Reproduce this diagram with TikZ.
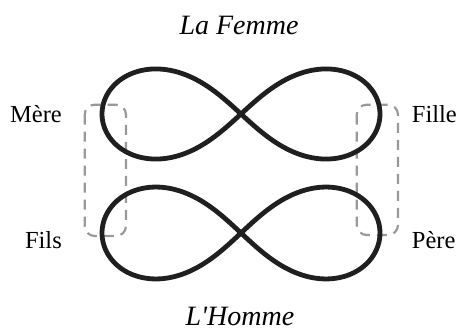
\documentclass[tikz,border=0pt]{standalone}
\usepackage{fontspec}
\setmainfont{Liberation Serif}
\newfontfamily\plainserif{Liberation Serif}[Ligatures=TeXOff]
\begin{document}
\begin{tikzpicture}[x=1pt,y=-1pt,
  loopline/.style={line width=4.8pt, color=black!88},
  pairbox/.style={draw=black!40, line width=2.2pt, dash pattern=on 10pt off 7pt, rounded corners=10pt},
  label/.style={font=\fontsize{24.5}{27}\selectfont, inner sep=0pt},
  title/.style={font=\plainserif\fontsize{28}{31}\selectfont\itshape, inner sep=0pt}]
\useasboundingbox (0,0) rectangle (458,331);
% dashed pair boxes
\draw[pairbox] (84.7,104.7) rectangle (126,236);
\draw[pairbox] (356.7,104.7) rectangle (398,235);
% lemniscates
\coordinate (top) at (241,114);
\coordinate (bot) at (241,233);
\draw[loopline] plot[domain=0:360, samples=240, smooth cycle, shift={(241,114)}]
  ({139*cos(\x)/(1+sin(\x)^2)}, {0.917*139*sin(\x)*cos(\x)/(1+sin(\x)^2)});
\draw[loopline] plot[domain=0:360, samples=240, smooth cycle, shift={(241,233)}]
  ({139*cos(\x)/(1+sin(\x)^2)}, {0.935*139*sin(\x)*cos(\x)/(1+sin(\x)^2)});
% labels
\node[label, anchor=base east] (mere) at (62,122.3) {Mère};
\node[label, anchor=base east] (fils) at (62,248.3) {Fils};
\node[label, anchor=base west] (fille) at (411.7,122.7) {Fille};
\node[label, anchor=base west] (pere) at (411.7,248.3) {Père};
\node[title, anchor=base] (femme) at (239,35) {La Femme};
\node[title, anchor=base] (homme) at (240,325) {L'Homme};
\end{tikzpicture}
\end{document}
